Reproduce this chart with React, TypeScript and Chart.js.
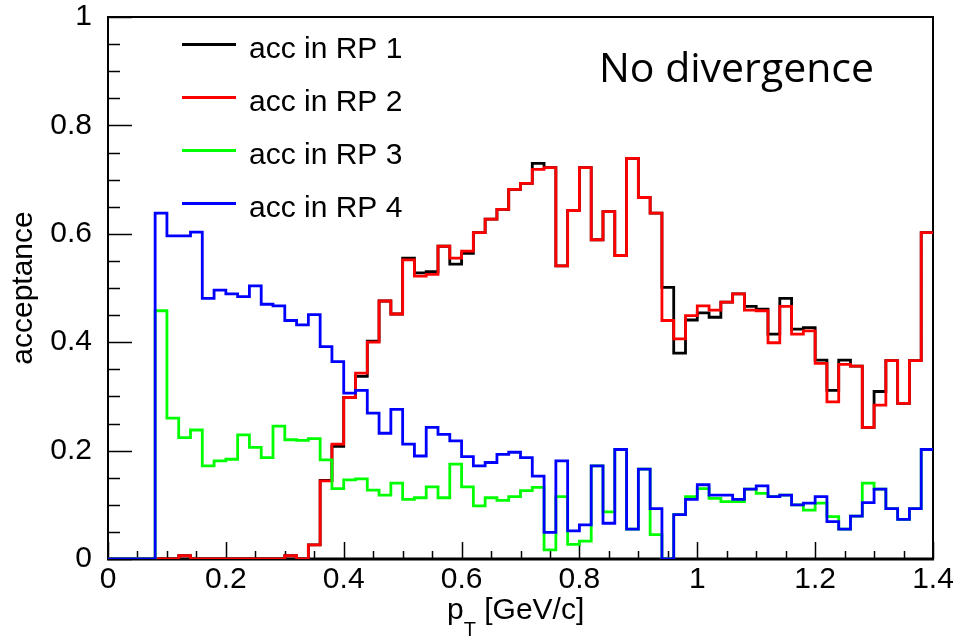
import React, { useEffect, useRef } from 'react';
import { Chart, registerables } from 'chart.js';

Chart.register(...registerables);

// ---- data ----
const PT_MIN = 0;
const PT_MAX = 1.4;
const BIN_WIDTH = 0.02; // 70 bins in pT [GeV/c]

const accRP1 = [
  0, 0, 0, 0, 0, 0, 0.006, 0, 0, 0,
  0, 0, 0, 0, 0, 0.006, 0, 0.026, 0.145, 0.208,
  0.298, 0.337, 0.402, 0.476, 0.452, 0.555, 0.528, 0.530, 0.577, 0.544,
  0.564, 0.602, 0.627, 0.645, 0.682, 0.693, 0.730, 0.722, 0.541, 0.643,
  0.722, 0.589, 0.641, 0.560, 0.739, 0.667, 0.638, 0.501, 0.380, 0.441,
  0.454, 0.446, 0.474, 0.489, 0.466, 0.461, 0.415, 0.481, 0.424, 0.427,
  0.367, 0.311, 0.367, 0.356, 0.243, 0.309, 0.366, 0.287, 0.366, 0.602,
];
const accRP2 = [
  0, 0, 0, 0, 0, 0, 0.006, 0, 0, 0,
  0, 0, 0, 0, 0, 0.006, 0, 0.026, 0.144, 0.212,
  0.298, 0.343, 0.400, 0.476, 0.452, 0.552, 0.522, 0.525, 0.577, 0.555,
  0.568, 0.602, 0.627, 0.645, 0.682, 0.693, 0.719, 0.722, 0.541, 0.643,
  0.722, 0.589, 0.641, 0.560, 0.739, 0.667, 0.638, 0.440, 0.406, 0.449,
  0.467, 0.459, 0.474, 0.489, 0.459, 0.458, 0.399, 0.466, 0.415, 0.421,
  0.361, 0.290, 0.359, 0.356, 0.243, 0.284, 0.366, 0.287, 0.366, 0.602,
];
const accRP3 = [
  0, 0, 0, 0, 0.458, 0.260, 0.224, 0.238, 0.172, 0.181,
  0.184, 0.229, 0.206, 0.187, 0.245, 0.220, 0.219, 0.222, 0.183, 0.130,
  0.146, 0.148, 0.127, 0.118, 0.140, 0.110, 0.113, 0.133, 0.113, 0.175,
  0.133, 0.098, 0.113, 0.108, 0.115, 0.126, 0.132, 0.017, 0.115, 0.027,
  0.033, 0.172, 0.087, 0.202, 0.055, 0.166, 0.045, 0, 0.082, 0.115,
  0.130, 0.112, 0.106, 0.106, 0.129, 0.121, 0.115, 0.118, 0.100, 0.090,
  0.103, 0.078, 0.055, 0.079, 0.140, 0.129, 0.093, 0.073, 0.093, 0.202,
];
const accRP4 = [
  0, 0, 0, 0, 0.638, 0.596, 0.596, 0.603, 0.481, 0.496,
  0.489, 0.484, 0.504, 0.470, 0.467, 0.440, 0.432, 0.451, 0.392, 0.364,
  0.306, 0.311, 0.269, 0.232, 0.276, 0.212, 0.190, 0.243, 0.230, 0.218,
  0.189, 0.172, 0.178, 0.193, 0.197, 0.187, 0.153, 0.049, 0.181, 0.052,
  0.063, 0.172, 0.066, 0.202, 0.055, 0.166, 0.093, 0, 0.082, 0.110,
  0.137, 0.118, 0.118, 0.110, 0.129, 0.135, 0.115, 0.118, 0.100, 0.103,
  0.115, 0.069, 0.055, 0.079, 0.104, 0.129, 0.093, 0.073, 0.093, 0.202,
];

const seriesLabels = ['acc in RP 1', 'acc in RP 2', 'acc in RP 3', 'acc in RP 4'];
const seriesColors = ['#000000', '#ff0000', '#00ff00', '#0000ff'];
const seriesValues = [accRP1, accRP2, accRP3, accRP4];

const X_MAJOR_STEP = 0.2;
const Y_MAJOR_STEP = 0.2;
const MINOR_STEP = 0.05;
const Y_MIN = 0;
const Y_MAX = 1;

const yTitle = 'acceptance';
const xTitleMain = 'p';
const xTitleSub = 'T';
const xTitleUnit = ' [GeV/c]';
const annotationText = 'No divergence';

const FONT = '"Liberation Sans", Arial, Helvetica, sans-serif';

function toSteps(values: number[]) {
  const pts = values.map((v, i) => ({ x: +(PT_MIN + i * BIN_WIDTH).toFixed(4), y: v }));
  pts.push({ x: PT_MAX, y: values[values.length - 1] });
  return pts;
}

function fmt(v: number) {
  return String(Number(v.toFixed(3)));
}

const rootStyle = {
  id: 'rootStyle',
  beforeDatasetsDraw(chart: any) {
    const { ctx, chartArea: a, scales } = chart;
    const xs = scales.x;
    const ys = scales.y;
    ctx.save();
    ctx.strokeStyle = '#000';
    ctx.lineWidth = 2;
    ctx.strokeRect(a.left, a.top, a.right - a.left, a.bottom - a.top);
    ctx.lineWidth = 3;
    ctx.beginPath();
    ctx.moveTo(a.left - 1, a.bottom);
    ctx.lineTo(a.right + 1, a.bottom);
    ctx.stroke();

    ctx.lineWidth = 1.5;
    const nx = Math.round((PT_MAX - PT_MIN) / MINOR_STEP);
    for (let i = 0; i <= nx; i++) {
      const v = PT_MIN + i * MINOR_STEP;
      const r = v / X_MAJOR_STEP;
      const major = Math.abs(r - Math.round(r)) < 1e-6;
      const px = Math.round(xs.getPixelForValue(v)) + 0.5;
      ctx.beginPath();
      ctx.moveTo(px, a.bottom);
      ctx.lineTo(px, a.bottom - (major ? 17 : 8));
      ctx.stroke();
    }
    const ny = Math.round((Y_MAX - Y_MIN) / MINOR_STEP);
    for (let i = 0; i <= ny; i++) {
      const v = Y_MIN + i * MINOR_STEP;
      const r = v / Y_MAJOR_STEP;
      const major = Math.abs(r - Math.round(r)) < 1e-6;
      const py = Math.round(ys.getPixelForValue(v)) + 0.5;
      ctx.beginPath();
      ctx.moveTo(a.left, py);
      ctx.lineTo(a.left + (major ? 24 : 12), py);
      ctx.stroke();
    }
    ctx.restore();
  },
  afterDatasetsDraw(chart: any) {
    const { ctx } = chart;
    ctx.save();
    // legend
    ctx.font = `30px ${FONT}`;
    ctx.textBaseline = 'alphabetic';
    ctx.textAlign = 'left';
    seriesLabels.forEach((lab, k) => {
      const ly = 44.5 + k * 53;
      ctx.strokeStyle = seriesColors[k];
      ctx.lineWidth = 3;
      ctx.beginPath();
      ctx.moveTo(182, ly);
      ctx.lineTo(236, ly);
      ctx.stroke();
      ctx.fillStyle = '#000';
      ctx.fillText(lab, 249, ly + 13);
    });
    // annotation
    ctx.font = `41px "Open Sans", "Noto Sans", sans-serif`;
    ctx.fillStyle = '#000';
    ctx.fillText(annotationText, 599, 82);
    // x title
    let x0 = 447;
    ctx.font = `30px ${FONT}`;
    ctx.fillText(xTitleMain, x0, 619);
    x0 += ctx.measureText(xTitleMain).width;
    ctx.font = `20px ${FONT}`;
    ctx.fillText(xTitleSub, x0, 636);
    x0 += ctx.measureText(xTitleSub).width;
    ctx.font = `30px ${FONT}`;
    ctx.fillText(xTitleUnit, x0, 619);
    ctx.restore();
  },
};

export default function App() {
  const ref = useRef<HTMLCanvasElement | null>(null);
  useEffect(() => {
    document.body.style.margin = '0';
    const canvas = ref.current;
    if (!canvas) return;
    const tickFont = { family: FONT, size: 30, lineHeight: 1 };
    const chart = new Chart(canvas, {
      type: 'line',
      data: {
        datasets: seriesValues.map((vals, k) => ({
          label: seriesLabels[k],
          data: toSteps(vals),
          borderColor: seriesColors[k],
          backgroundColor: seriesColors[k],
          borderWidth: 2.8,
          pointRadius: 0,
          stepped: true,
          fill: false,
          tension: 0,
          borderJoinStyle: 'miter',
          borderCapStyle: 'butt',
          order: 4 - k,
        })),
      },
      options: {
        animation: false,
        responsive: false,
        maintainAspectRatio: false,
        devicePixelRatio: 1,
        layout: { padding: { top: 17, right: 24, left: 0, bottom: 0 } },
        plugins: { legend: { display: false }, tooltip: { enabled: false } },
        scales: {
          x: {
            type: 'linear',
            min: PT_MIN,
            max: PT_MAX,
            grid: { display: false },
            border: { display: false },
            ticks: {
              stepSize: X_MAJOR_STEP,
              autoSkip: false,
              maxRotation: 0,
              color: '#000',
              font: tickFont,
              padding: -2,
              callback: (v: any) => fmt(Number(v)),
            },
            afterFit: (s: any) => {
              s.height = 78;
              s.paddingLeft = 0;
              s.paddingRight = 0;
            },
          },
          y: {
            type: 'linear',
            min: Y_MIN,
            max: Y_MAX,
            grid: { display: false },
            border: { display: false },
            ticks: {
              stepSize: Y_MAJOR_STEP,
              autoSkip: false,
              color: '#000',
              font: tickFont,
              padding: 8,
              callback: (v: any) => fmt(Number(v)),
            },
            title: {
              display: true,
              text: yTitle,
              color: '#000',
              font: { family: FONT, size: 30 },
              padding: { top: 6, bottom: 0 },
            },
            afterFit: (s: any) => {
              s.width = 108;
              s.paddingTop = 0;
              s.paddingBottom = 0;
            },
          },
        },
      },
      plugins: [rootStyle],
    } as any);
    return () => chart.destroy();
  }, []);
  return (
    <div style={{ position: 'absolute', left: 0, top: 0, width: 957, height: 637, background: '#fff' }}>
      <canvas ref={ref} width={957} height={637} style={{ width: 957, height: 637, display: 'block' }} />
    </div>
  );
}
